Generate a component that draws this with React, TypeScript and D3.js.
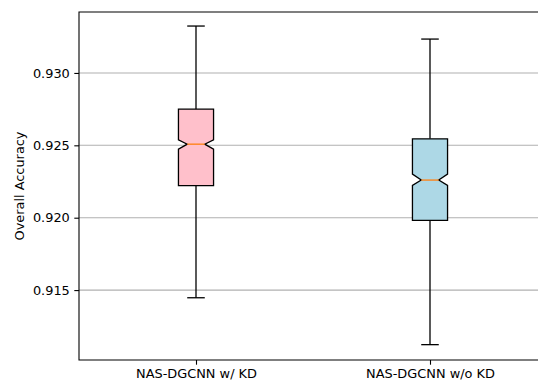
import React, { useRef, useEffect } from "react";
import * as d3 from "d3";

const categories = ["NAS-DGCNN w/ KD", "NAS-DGCNN w/o KD"];
const whiskerLow = [0.91447, 0.91123];
const q1 = [0.92221, 0.91981];
const median = [0.92508, 0.9226];
const q3 = [0.9275, 0.92545];
const whiskerHigh = [0.93324, 0.93234];
const notchLow = [0.92474, 0.92223];
const notchHigh = [0.92538, 0.92301];
const fills = ["#ffc0cb", "#add8e6"];
const yTicks = [0.915, 0.92, 0.925, 0.93];

const App = () => {
  const ref = useRef<SVGSVGElement>(null);

  useEffect(() => {
    document.body.style.margin = "0";
    document.body.style.overflow = "hidden";
    document.documentElement.style.overflow = "hidden";

    const svg = d3.select(ref.current);
    svg.selectAll("*").remove();

    // the figure is cropped on the right, so the axes run past the canvas edge
    const left = 79, right = 547, top = 12, bottom = 360;
    const edge = 540;
    const x = d3.scaleLinear().domain([0.5, 2.5]).range([left, right]);
    const y = d3.scaleLinear().domain([0.91017, 0.93421]).range([bottom, top]);
    const font = "'DejaVu Sans', sans-serif";
    const fs = 12.9;
    const bw = 0.15;

    // grid
    svg
      .selectAll(".grid")
      .data(yTicks)
      .join("line")
      .attr("x1", left)
      .attr("x2", edge)
      .attr("y1", (d) => y(d))
      .attr("y2", (d) => y(d))
      .attr("stroke", "#b0b0b0")
      .attr("stroke-width", 1.1);

    categories.forEach((c, i) => {
      const p = i + 1;
      const g = svg.append("g");
      // whiskers
      g.append("line")
        .attr("x1", x(p)).attr("x2", x(p))
        .attr("y1", y(q3[i])).attr("y2", y(whiskerHigh[i]))
        .attr("stroke", "black").attr("stroke-width", 1.3);
      g.append("line")
        .attr("x1", x(p)).attr("x2", x(p))
        .attr("y1", y(q1[i])).attr("y2", y(whiskerLow[i]))
        .attr("stroke", "black").attr("stroke-width", 1.3);
      [whiskerHigh[i], whiskerLow[i]].forEach((v) => {
        g.append("line")
          .attr("x1", x(p - bw / 4)).attr("x2", x(p + bw / 4))
          .attr("y1", y(v)).attr("y2", y(v))
          .attr("stroke", "black").attr("stroke-width", 1.3);
      });
      // notched box
      const l = x(p - bw / 2), r = x(p + bw / 2);
      const nl = x(p - bw / 4), nr = x(p + bw / 4);
      const pts: [number, number][] = [
        [l, y(q1[i])],
        [r, y(q1[i])],
        [r, y(notchLow[i])],
        [nr, y(median[i])],
        [r, y(notchHigh[i])],
        [r, y(q3[i])],
        [l, y(q3[i])],
        [l, y(notchHigh[i])],
        [nl, y(median[i])],
        [l, y(notchLow[i])],
      ];
      g.append("path")
        .attr("d", d3.line()(pts) + "Z")
        .attr("fill", fills[i])
        .attr("stroke", "black")
        .attr("stroke-width", 1.3)
        .attr("stroke-linejoin", "miter");
      g.append("line")
        .attr("x1", nl).attr("x2", nr)
        .attr("y1", y(median[i])).attr("y2", y(median[i]))
        .attr("stroke", "#ff7f0e").attr("stroke-width", 1.3);
    });

    // axes
    const yAxis = svg
      .append("g")
      .attr("transform", `translate(${left},0)`)
      .call(d3.axisLeft(y).tickValues(yTicks).tickFormat(d3.format(".3f")).tickSizeOuter(0).tickSize(4.7).tickPadding(4.5));
    yAxis.select(".domain").remove();
    yAxis.selectAll("text").attr("font-family", font).attr("font-size", fs).attr("fill", "black");
    yAxis.selectAll("line").attr("stroke", "black").attr("stroke-width", 1.1);

    const xAxis = svg
      .append("g")
      .attr("transform", `translate(0,${bottom})`)
      .call(d3.axisBottom(x).tickValues([1, 2]).tickFormat((d) => categories[+d - 1]).tickSizeOuter(0).tickSize(4.7).tickPadding(4.5));
    xAxis.select(".domain").remove();
    xAxis.selectAll("text").attr("font-family", font).attr("font-size", fs).attr("fill", "black");
    xAxis.selectAll("line").attr("stroke", "black").attr("stroke-width", 1.1);

    // spines (top, left, bottom only: the right one is outside the crop)
    svg.append("path")
      .attr("d", `M${edge},${top}H${left}V${bottom}H${edge}`)
      .attr("fill", "none")
      .attr("stroke", "black")
      .attr("stroke-width", 1.1);

    svg.append("text")
      .attr("transform", `translate(24,${(top + bottom) / 2}) rotate(-90)`)
      .attr("text-anchor", "middle")
      .attr("font-family", font)
      .attr("font-size", fs)
      .text("Overall Accuracy");
  }, []);

  return (
    <svg
      ref={ref}
      width={538}
      height={383}
      style={{ position: "fixed", left: 0, top: 0, background: "white", display: "block" }}
    ></svg>
  );
};

export default App;
